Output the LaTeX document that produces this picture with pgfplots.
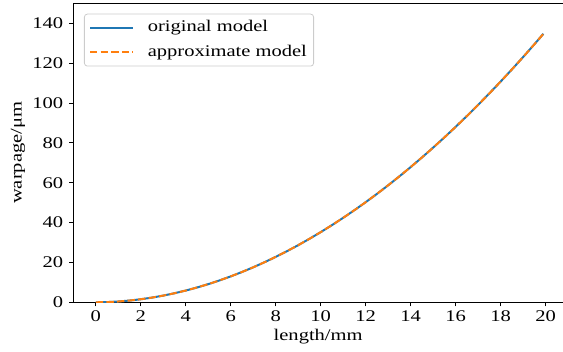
\documentclass[border=0pt]{standalone}
\usepackage{fontspec}
\setmainfont{Liberation Serif}[FakeStretch=1.26]
\usepackage{pgfplots}
\pgfplotsset{compat=1.18}
\definecolor{mblue}{HTML}{1F77B4}
\definecolor{morange}{HTML}{FF7F0E}
\definecolor{lgray}{HTML}{CCCCCC}
\begin{document}
\begin{tikzpicture}[font=\fontsize{16.3}{19.5}\selectfont]
\useasboundingbox (-73.3pt,-49.7pt) rectangle (489.7pt,302.3pt);
\begin{axis}[
  at={(0pt,0pt)}, anchor=south west,
  width=489.7pt, height=299pt, scale only axis,
  xmin=-1, xmax=20.77, ymin=0, ymax=150,
  xtick={0,2,...,20}, ytick={0,20,...,140},
  /pgf/number format/assume math mode=true,
  axis x line*=bottom, axis y line*=left,
  tick align=outside, major tick length=4pt,
  tick style={black, line width=0.9pt},
  axis line style={black, line width=1pt, -},
  extra description/.code={\draw[black, line width=1pt] (rel axis cs:0,1) -- (rel axis cs:1,1);},
  yticklabel style={inner sep=0pt, xshift=-6pt},
  xticklabel style={inner sep=0pt, yshift=-4.4pt},
  xlabel={length/mm}, ylabel={warpage/μm},
  every axis x label/.style={at={(axis description cs:0.5,0)}, yshift=-34pt, anchor=center},
  every axis y label/.style={at={(axis description cs:0,0.5)}, xshift=-55.3pt, rotate=90, anchor=center},
  legend style={at={(0.02185,0.9652)}, anchor=north west, draw=lgray, line width=0.8pt,
    rounded corners=3pt, fill=white, fill opacity=0.8, text opacity=1,
    inner xsep=4.7pt, inner ysep=4.5pt,
    nodes={anchor=west, inner sep=2pt, text height=11pt, text depth=3.5pt}, row sep=6pt,
    /tikz/every odd column/.append style={column sep=11.7pt}},
  legend cell align=left,
  legend image code/.code={\draw[#1] (0pt,0pt) -- (43pt,0pt);},
]
\addplot[mblue, line width=2pt] coordinates {
(0,0) (0.5,0.102) (1,0.395) (1.5,0.871) (2,1.526) (2.5,2.358) (3,3.365) (3.5,4.545)
(4,5.897) (4.5,7.420) (5,9.112) (5.5,10.973) (6,13.002) (6.5,15.198) (7,17.561)
(7.5,20.090) (8,22.784) (8.5,25.643) (9,28.667) (9.5,31.855) (10,35.206)
(10.5,38.719) (11,42.395) (11.5,46.234) (12,50.235) (12.5,54.397) (13,58.721)
(13.5,63.205) (14,67.850) (14.5,72.655) (15,77.621) (15.5,82.746) (16,88.031)
(16.5,93.475) (17,99.078) (17.5,104.839) (18,110.759) (18.5,116.837) (19,123.074)
(19.5,129.470) (19.9,134.700)
};
\addlegendentry{original model}
\addplot[morange, line width=2pt, dash pattern=on 7.4pt off 3.2pt] coordinates {
(0,0) (0.5,0.102) (1,0.395) (1.5,0.871) (2,1.526) (2.5,2.358) (3,3.365) (3.5,4.545)
(4,5.897) (4.5,7.420) (5,9.112) (5.5,10.973) (6,13.002) (6.5,15.198) (7,17.561)
(7.5,20.090) (8,22.784) (8.5,25.643) (9,28.667) (9.5,31.855) (10,35.206)
(10.5,38.719) (11,42.395) (11.5,46.234) (12,50.235) (12.5,54.397) (13,58.721)
(13.5,63.205) (14,67.850) (14.5,72.655) (15,77.621) (15.5,82.746) (16,88.031)
(16.5,93.475) (17,99.078) (17.5,104.839) (18,110.759) (18.5,116.837) (19,123.074)
(19.5,129.470) (19.9,134.700)
};
\addlegendentry{approximate model}
\end{axis}
\end{tikzpicture}
\end{document}
